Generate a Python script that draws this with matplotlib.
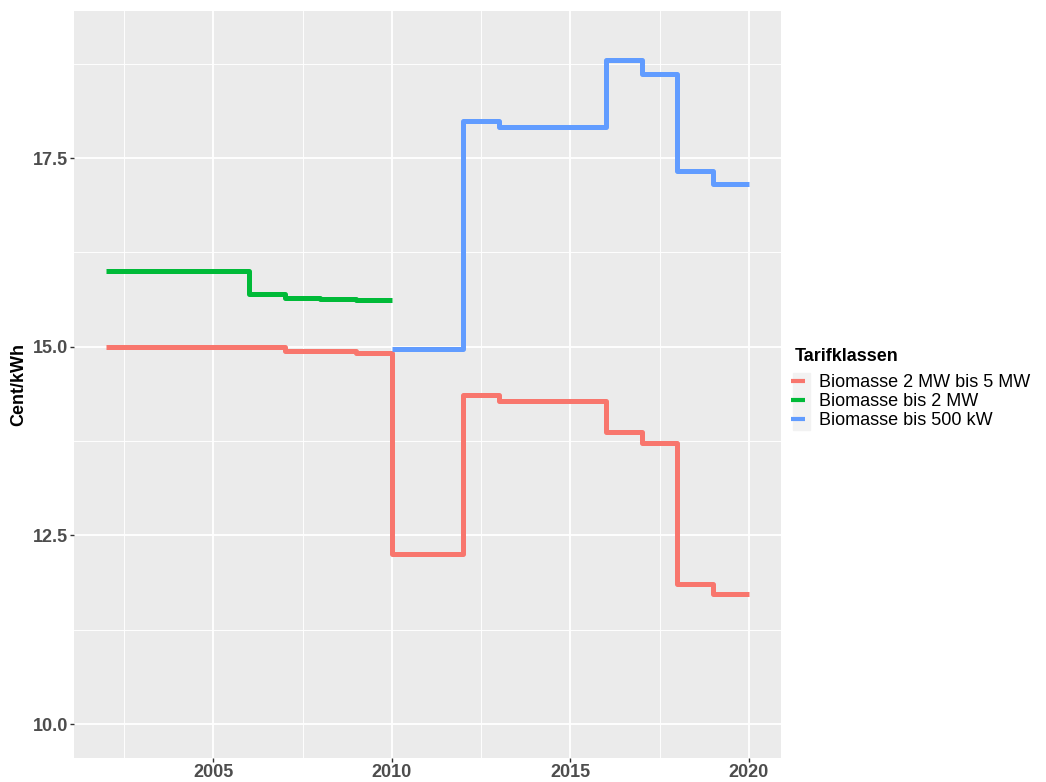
import matplotlib
matplotlib.use("Agg")
import matplotlib.pyplot as plt
from matplotlib.patches import Rectangle
from matplotlib.ticker import MultipleLocator

plt.rcParams["font.family"] = ["Liberation Sans", "DejaVu Sans"]

# Verguetung je Tarifklasse (Cent/kWh), Jahreswerte
years_red = [2002, 2003, 2004, 2005, 2006, 2007, 2008, 2009, 2010, 2011,
             2012, 2013, 2014, 2015, 2016, 2017, 2018, 2019, 2020]
red = [15.0, 15.0, 15.0, 15.0, 15.0, 14.95, 14.94, 14.92, 12.25, 12.25,
       14.36, 14.28, 14.28, 14.28, 13.87, 13.73, 11.85, 11.73, 11.73]

years_green = [2002, 2003, 2004, 2005, 2006, 2007, 2008, 2009, 2010]
green = [16.0, 16.0, 16.0, 16.0, 15.70, 15.64, 15.63, 15.62, 15.62]

years_blue = [2010, 2011, 2012, 2013, 2014, 2015, 2016, 2017, 2018, 2019, 2020]
blue = [14.97, 14.97, 17.99, 17.91, 17.91, 17.91, 18.80, 18.61, 17.33, 17.16, 17.16]

labels = ["Biomasse 2 MW bis 5 MW", "Biomasse bis 2 MW", "Biomasse bis 500 kW"]
colors = ["#F8766D", "#00BA38", "#619CFF"]

W, H = 1046, 782
fig = plt.figure(figsize=(W / 100, H / 100), dpi=100)
ax = fig.add_axes([74 / W, 1 - 758 / H, 707 / W, 747 / H])
ax.set_facecolor("#EBEBEB")

lines = []
for xs, ys, c in [(years_red, red, colors[0]), (years_green, green, colors[1]),
                  (years_blue, blue, colors[2])]:
    l, = ax.step(xs, ys, where="post", color=c, lw=3.6, solid_capstyle="butt")
    lines.append(l)

ax.set_xlim(2001.1, 2020.9)
ax.set_ylim(9.55, 19.45)
ax.xaxis.set_major_locator(MultipleLocator(5))
ax.xaxis.set_minor_locator(MultipleLocator(2.5))
ax.yaxis.set_minor_locator(MultipleLocator(1.25))
ax.set_yticks([10.0, 12.5, 15.0, 17.5])
ax.set_yticklabels(["10.0", "12.5", "15.0", "17.5"])
ax.grid(which="major", color="white", lw=1.3)
ax.grid(which="minor", color="white", lw=0.65)
ax.set_axisbelow(True)
for s in ax.spines.values():
    s.set_visible(False)
ax.tick_params(which="major", length=3, width=1, color="#333333",
               labelsize=13, labelcolor="#4D4D4D", pad=1)
ax.tick_params(which="minor", length=0)
for t in ax.get_xticklabels() + ax.get_yticklabels():
    t.set_fontweight("bold")
ax.set_ylabel("Cent/kWh", fontsize=13, fontweight="bold", color="black")
ax.yaxis.set_label_coords(-0.066, 0.5)

# legend: title, key background, entries
fig.text(795 / W, 1 - 356 / H, "Tarifklassen", fontsize=13, fontweight="bold",
         va="center", ha="left")
fig.patches.append(Rectangle((793 / W, 1 - 430 / H), 17 / W, 57 / H,
                             transform=fig.transFigure, color="#F2F2F2", zorder=0))
leg = fig.legend(lines, labels, loc="upper left", bbox_to_anchor=(791 / W, 1 - 374 / H),
                 frameon=False, fontsize=13, handlelength=0.75, handletextpad=0.8,
                 labelspacing=0.12, borderaxespad=0, borderpad=0)
for h in leg.legend_handles:
    h.set_linewidth(3)

fig.savefig("out.png", dpi=100)
